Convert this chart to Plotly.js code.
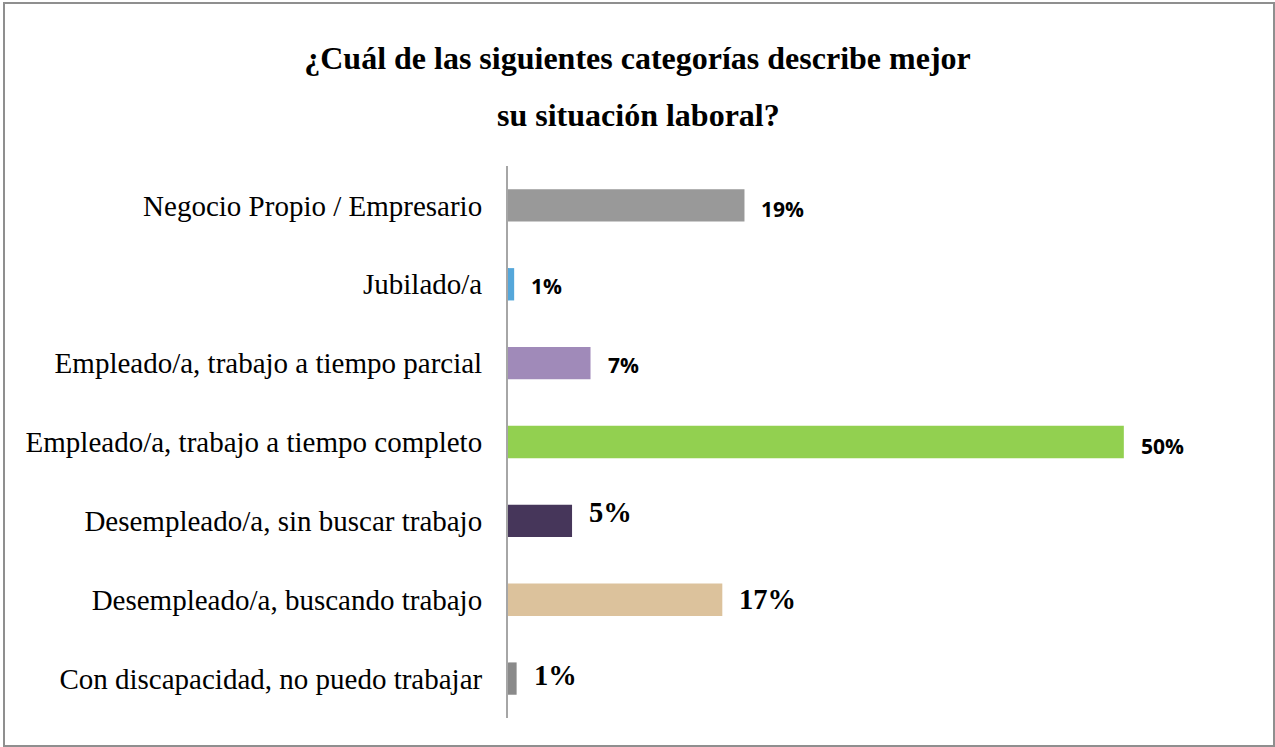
<!DOCTYPE html>
<html><head><meta charset="utf-8">
<script src="https://cdn.plot.ly/plotly-3.0.1.min.js"></script>
<style>
html,body{margin:0;padding:0;background:#fff;}
#wrap{position:relative;width:1275px;height:747px;}
#chart{width:1275px;height:747px;}
#frame{position:absolute;left:3px;top:2px;width:1268px;height:741px;border:2px solid #8f8f8f;pointer-events:none;}
</style></head>
<body>
<div id="wrap"><div id="chart"></div><div id="frame"></div></div>
<script>
// Data
const categories = [
  "Negocio Propio / Empresario",
  "Jubilado/a",
  "Empleado/a, trabajo a tiempo parcial",
  "Empleado/a, trabajo a tiempo completo",
  "Desempleado/a, sin buscar trabajo",
  "Desempleado/a, buscando trabajo",
  "Con discapacidad, no puedo trabajar"
];
const values = [19.2, 0.5, 6.7, 50, 5.2, 17.4, 0.7];
const valueLabels = ["19%", "1%", "7%", "50%", "5%", "17%", "1%"];

// Styles
const barColors = ["#999999", "#55A7DA", "#A08AB9", "#92D050", "#46365A", "#DCC29C", "#8A8A8A"];
const serifFamily = "'Liberation Serif', 'Times New Roman', serif";
const sansFont = {family: "'Open Sans', 'Liberation Sans', sans-serif", size: 21, color: "#000", weight: 700};
const serifFont = {family: serifFamily, size: 28.5, color: "#000", weight: 700};
const labelFonts = [sansFont, sansFont, sansFont, sansFont, serifFont, serifFont, serifFont];
const labelYShift = [-4, -2, -2, -4, 8, 0, 3];

const trace = {
  type: "bar",
  orientation: "h",
  x: values,
  y: categories,
  marker: {color: barColors},
  width: 0.41,
  hoverinfo: "skip"
};

const annotations = categories.map((c, i) => ({
  x: values[i], y: c, xref: "x", yref: "y",
  text: valueLabels[i], showarrow: false,
  xanchor: "left", yanchor: "middle", xshift: 15, yshift: labelYShift[i],
  font: labelFonts[i]
}));

const plotW = 1275 - 508 - 28;
const plotH = 747 - 166 - 29;
annotations.push({
  xref: "paper", yref: "paper",
  x: (638 - 508) / plotW, y: 1 + (166 - 115) / plotH,
  xanchor: "center", yanchor: "middle",
  text: "<b>su situación laboral?</b>", showarrow: false,
  font: {family: serifFamily, size: 32, color: "#000"}
});

const layout = {
  width: 1275, height: 747,
  paper_bgcolor: "#fff", plot_bgcolor: "#fff",
  margin: {l: 508, r: 28, t: 166, b: 29},
  title: {
    text: "<b>¿Cuál de las siguientes categorías describe mejor</b>",
    font: {family: serifFamily, size: 32, color: "#000"},
    x: 0.5, xanchor: "center", xref: "container", y: 1 - 58/747, yanchor: "middle"
  },
  xaxis: {range: [0, 60], visible: false, fixedrange: true},
  yaxis: {
    autorange: "reversed", showline: true, linecolor: "#a6a6a6", linewidth: 2,
    ticks: "", ticklabelstandoff: 18, showgrid: false, zeroline: false,
    tickfont: {family: serifFamily, size: 29, color: "#000"}
  },
  showlegend: false,
  annotations: annotations
};

Plotly.newPlot("chart", [trace], layout, {displayModeBar: false, staticPlot: true});
</script>
</body></html>
